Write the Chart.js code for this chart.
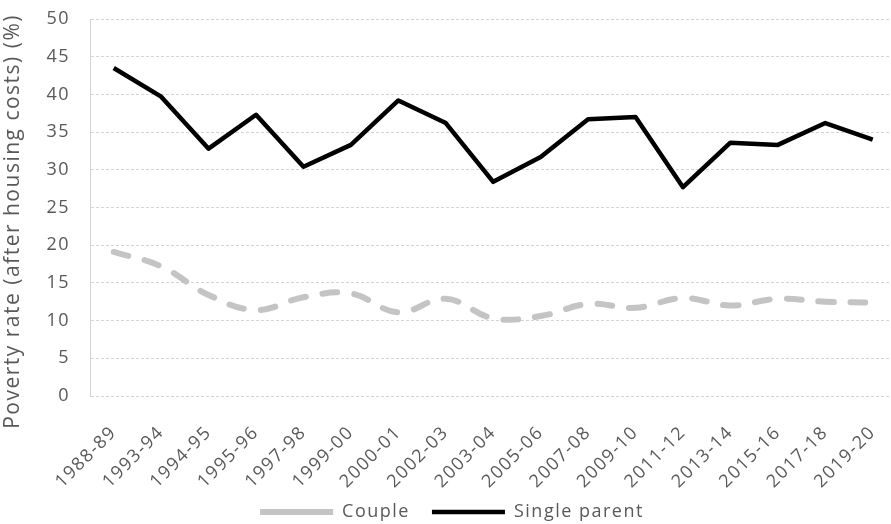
<!DOCTYPE html>
<html>
<head>
<meta charset="utf-8">
<script src="https://cdn.jsdelivr.net/npm/chart.js@4/dist/chart.umd.min.js"></script>
<style>
  html, body { margin: 0; padding: 0; background: #fff; overflow: hidden; }
  #wrap { position: relative; width: 906px; height: 524px; }
</style>
</head>
<body>
<div id="wrap"><canvas id="chartLine"></canvas></div>
<script>
// tick labels on the x axis (financial years)
const years = [
    '1988-89', '1993-94', '1994-95', '1995-96', '1997-98', '1999-00',
    '2000-01', '2002-03', '2003-04', '2005-06', '2007-08', '2009-10',
    '2011-12', '2013-14', '2015-16', '2017-18', '2019-20'
];

// poverty rate after housing costs, %
const couple = [19.1, 17.2, 13.4, 11.4, 13.1, 13.6, 11.1, 12.9, 10.3, 10.6, 12.2, 11.7, 13.0, 12.0, 12.9, 12.5, 12.4];
const singleParent = [43.5, 39.7, 32.8, 37.3, 30.4, 33.3, 39.2, 36.2, 28.4, 31.7, 36.7, 37.0, 27.7, 33.6, 33.3, 36.2, 34.0];

const yTicks = [0, 5, 10, 15, 20, 25, 30, 35, 40, 45, 50];

const textColor = '#595959';
const fontFamily = '"Open Sans", sans-serif';
const legendHeight = 32;

// the reference text is a bit wider than Open Sans, so space the letters out
const tweaks = {
    id: 'tweaks',
    afterInit: chart => {
        // keep the legend box short so the rotated year labels are not clipped
        const lg = chart.legend;
        const fit = lg.fit;
        lg.fit = function () {
            fit.call(this);
            this.height = legendHeight;
        };
    },
    beforeUpdate: chart => { chart.ctx.letterSpacing = '1.5px'; },
    beforeDraw: chart => {
        chart.ctx.letterSpacing = '1.5px';
        // nudge the legend to where it sits in the picture
        const lg = chart.legend;
        lg.left -= 1;
        lg.right -= 1;
        lg.top -= 9;
    }
};

const data = {
    labels: years,
    datasets: [{
        label: 'Couple',
        data: couple,
        borderColor: '#c4c4c4',
        backgroundColor: '#c4c4c4',
        borderWidth: 6,
        borderDash: [15, 17],
        borderCapStyle: 'round',
        tension: 0.4,
        pointRadius: 0,
        fill: false
    }, {
        label: 'Single parent',
        data: singleParent,
        borderColor: '#000000',
        backgroundColor: '#000000',
        borderWidth: 4.5,
        borderJoinStyle: 'round',
        tension: 0,
        pointRadius: 0,
        fill: false
    }]
};

const config = {
    type: 'line',
    data,
    plugins: [tweaks],
    options: {
        responsive: false,
        animation: false,
        layout: { padding: { left: 0, right: 0, top: 19, bottom: 2 } },
        plugins: {
            tooltip: { enabled: false },
            legend: {
                position: 'bottom',
                labels: {
                    color: textColor,
                    font: { family: fontFamily, size: 18 },
                    usePointStyle: true,
                    pointStyleWidth: 73,
                    boxHeight: 18,
                    padding: 22
                }
            }
        },
        scales: {
            x: {
                offset: true,
                grid: { display: false },
                border: { display: false },
                afterFit: s => { s.height = 524 - 2 - legendHeight - 396; },
                ticks: {
                    color: textColor,
                    font: { family: fontFamily, size: 18 },
                    minRotation: 45,
                    maxRotation: 45,
                    autoSkip: false,
                    padding: 18
                }
            },
            y: {
                min: 0,
                max: 50,
                afterBuildTicks: axis => {
                    axis.ticks = yTicks.map(v => ({ value: v }));
                },
                afterFit: s => {
                    s.width = 90;
                    s.paddingTop = 0;
                    s.paddingBottom = 0;
                },
                grid: { color: '#d4d4d4', drawTicks: false, lineWidth: 1 },
                border: { display: true, color: '#d4d4d4', dash: [3, 2] },
                ticks: {
                    color: textColor,
                    font: { family: fontFamily, size: 18 },
                    padding: 20
                },
                title: {
                    display: true,
                    text: 'Poverty rate (after housing costs) (%)    ',
                    color: textColor,
                    font: { family: fontFamily, size: 21 },
                    padding: { top: 0, bottom: 8 }
                }
            }
        }
    }
};

// line style for the legend symbols
config.options.plugins.legend.labels.generateLabels = chart => {
    const items = Chart.defaults.plugins.legend.labels.generateLabels(chart);
    items.forEach(it => { it.pointStyle = 'line'; });
    return items;
};

const canvas = document.getElementById('chartLine');
canvas.width = 906;
canvas.height = 524;
var chartLine = new Chart(canvas, config);
</script>
</body>
</html>
